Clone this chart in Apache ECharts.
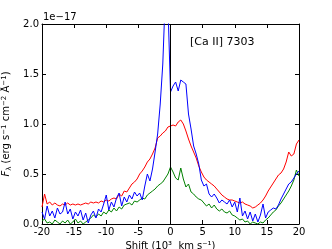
<!DOCTYPE html>
<html><head><meta charset="utf-8">
<script src="https://cdn.jsdelivr.net/npm/echarts@6/dist/echarts.min.js"></script>
<style>html,body{margin:0;padding:0;background:#fff}#c{width:332px;height:249px}</style>
</head><body><div id="c"></div>
<script>
var shift = [-20.0,-19.6,-19.2,-18.8,-18.4,-18.0,-17.6,-17.2,-16.8,-16.4,-16.0,-15.6,-15.2,-14.8,-14.4,-14.0,-13.6,-13.2,-12.8,-12.4,-12.0,-11.6,-11.2,-10.8,-10.4,-10.0,-9.6,-9.2,-8.8,-8.4,-8.0,-7.6,-7.2,-6.8,-6.4,-6.0,-5.6,-5.2,-4.8,-4.4,-4.0,-3.6,-3.2,-2.8,-2.4,-2.0,-1.6,-1.2,-0.8,-0.4,0.0,0.4,0.8,1.2,1.6,2.0,2.4,2.8,3.2,3.6,4.0,4.4,4.8,5.2,5.6,6.0,6.4,6.8,7.2,7.6,8.0,8.4,8.8,9.2,9.6,10.0,10.4,10.8,11.2,11.6,12.0,12.4,12.8,13.2,13.6,14.0,14.4,14.8,15.2,15.6,16.0,16.4,16.8,17.2,17.6,18.0,18.4,18.8,19.2,19.6,20.0];
var fluxRed = [0.17,0.30,0.20,0.22,0.19,0.21,0.19,0.18,0.20,0.19,0.21,0.19,0.20,0.19,0.20,0.19,0.20,0.21,0.20,0.22,0.21,0.22,0.21,0.23,0.22,0.24,0.23,0.25,0.26,0.25,0.30,0.28,0.33,0.32,0.36,0.40,0.42,0.45,0.50,0.53,0.57,0.62,0.65,0.70,0.76,0.86,0.88,0.91,0.93,0.97,0.98,0.99,0.98,1.02,1.04,1.00,0.93,0.85,0.78,0.72,0.66,0.58,0.52,0.47,0.44,0.42,0.40,0.38,0.35,0.32,0.29,0.27,0.25,0.24,0.24,0.23,0.22,0.21,0.22,0.20,0.19,0.18,0.16,0.17,0.19,0.21,0.24,0.28,0.33,0.37,0.41,0.45,0.49,0.51,0.55,0.62,0.72,0.68,0.70,0.80,0.84];
var fluxGreen = [0.03,0.05,0.01,0.02,0.00,0.04,0.02,0.00,0.03,0.01,0.04,0.00,0.02,0.05,0.01,0.03,0.00,0.02,0.04,0.06,0.09,0.07,0.10,0.08,0.12,0.10,0.14,0.12,0.16,0.13,0.17,0.15,0.19,0.20,0.21,0.19,0.23,0.22,0.24,0.26,0.25,0.29,0.31,0.33,0.35,0.38,0.40,0.42,0.46,0.50,0.57,0.52,0.46,0.44,0.56,0.45,0.37,0.40,0.32,0.30,0.27,0.25,0.24,0.21,0.18,0.20,0.16,0.19,0.15,0.13,0.15,0.12,0.11,0.13,0.09,0.08,0.06,0.04,0.05,0.02,0.03,0.00,0.02,0.01,0.00,0.02,0.01,0.04,0.06,0.09,0.12,0.14,0.18,0.21,0.25,0.29,0.33,0.38,0.44,0.54,0.48];
var fluxBlue = [0.12,0.05,0.18,0.08,0.13,0.06,0.16,0.10,0.12,0.22,0.10,0.15,0.05,0.12,0.08,0.14,0.04,0.11,0.01,0.09,0.13,0.06,0.15,0.12,0.20,0.29,0.14,0.22,0.17,0.26,0.31,0.18,0.27,0.22,0.29,0.25,0.32,0.28,0.31,0.24,0.38,0.50,0.43,0.55,0.72,0.90,1.20,1.60,2.30,2.20,1.32,1.38,1.42,1.33,1.44,1.42,1.40,1.10,0.95,0.78,0.70,0.60,0.44,0.38,0.40,0.30,0.27,0.30,0.26,0.21,0.24,0.22,0.20,0.24,0.17,0.22,0.12,0.26,0.08,0.13,0.05,0.12,0.03,0.10,0.02,0.09,0.20,0.06,0.12,0.14,0.16,0.15,0.19,0.25,0.30,0.35,0.40,0.42,0.46,0.50,0.53];
var xTicks = [-20,-15,-10,-5,0,5,10,15,20];
var yTicks = ['0.0','0.5','1.0','1.5','2.0'];

function pairs(ys){ return shift.map(function(x,i){ return [x, ys[i]]; }); }
var font = 'DejaVu Sans';
var chart = echarts.init(document.getElementById('c'), null, {renderer:'canvas'});
function axisCommon(){ return {
  axisLine:{show:true, onZero:false, lineStyle:{color:'#000', width:1}},
  axisTick:{show:true, inside:true, length:4, lineStyle:{color:'#000'}},
  splitLine:{show:false}
};}
chart.setOption({
  animation:false,
  backgroundColor:'#fff',
  grid:{left:42, right:33, top:24, bottom:25, containLabel:false, outerBoundsMode:'none'},
  xAxis:[
    Object.assign({type:'value', min:-20, max:20, interval:5, position:'bottom',
      name:'Shift (10³  km s⁻¹)', nameLocation:'middle', nameGap:10,
      nameTextStyle:{fontFamily:font, fontSize:10, color:'#000'},
      axisLabel:{fontFamily:font, fontSize:10, color:'#000', margin:3,
        formatter:function(v){ return xTicks.indexOf(v)>=0 ? String(v) : ''; }}}, axisCommon()),
    Object.assign({type:'value', min:-20, max:20, interval:5, position:'top', axisLabel:{show:false}}, axisCommon())
  ],
  yAxis:[
    Object.assign({type:'value', min:0, max:2, interval:0.5, position:'left',
      name:'{i|F}{sub|λ} (erg s{sup|−1} cm{sup|−2} Å{sup|−1})', nameLocation:'middle', nameRotate:90, nameGap:23,
      nameTextStyle:{fontFamily:font, fontSize:10, color:'#000',
        rich:{i:{fontFamily:font, fontStyle:'italic', fontSize:10, color:'#000'},
              sub:{fontFamily:font, fontSize:7, color:'#000', verticalAlign:'bottom', padding:[4,0,0,0]},
              sup:{fontFamily:font, fontSize:7, color:'#000', verticalAlign:'top', padding:[0,0,5,0]}}},
      axisLabel:{fontFamily:font, fontSize:10, color:'#000', margin:3,
        formatter:function(v){ return yTicks[Math.round(v/0.5)]; }}}, axisCommon()),
    Object.assign({type:'value', min:0, max:2, interval:0.5, position:'right', axisLabel:{show:false}}, axisCommon())
  ],
  graphic:[
    {type:'text', left:43, top:12, style:{text:'1e−17', font:'10px "DejaVu Sans"', fill:'#000'}},
    {type:'text', left:190, top:37, style:{text:'[Ca II] 7303', font:'11px "DejaVu Sans"', fill:'#000'}}
  ],
  series:[
    {type:'line', data:pairs(fluxRed), showSymbol:false, symbol:'none', lineStyle:{color:'#ff0000', width:1}, clip:true,
     markLine:{silent:true, symbol:'none', label:{show:false}, lineStyle:{color:'#000', width:1, type:'solid'}, data:[{xAxis:0}]}},
    {type:'line', data:pairs(fluxGreen), showSymbol:false, symbol:'none', lineStyle:{color:'#008000', width:1}, clip:true},
    {type:'line', data:pairs(fluxBlue), showSymbol:false, symbol:'none', lineStyle:{color:'#0000ff', width:1}, clip:true}
  ]
});
</script></body></html>
